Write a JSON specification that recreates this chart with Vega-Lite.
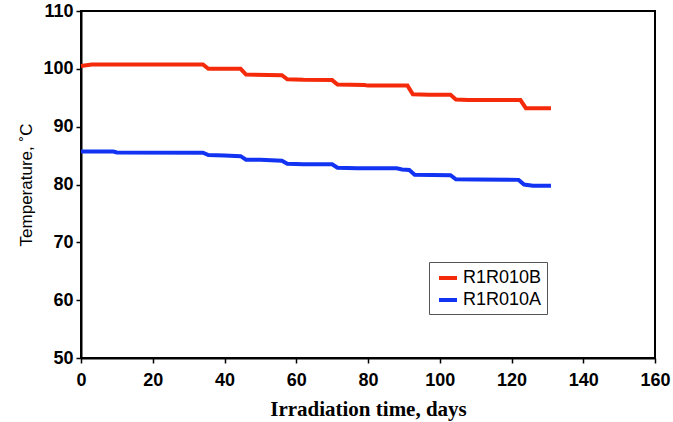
{
  "$schema": "https://vega.github.io/schema/vega-lite/v6.json",
  "width": 574,
  "height": 347,
  "autosize": {"type": "none"},
  "padding": {"left": 81, "top": 11, "right": 18, "bottom": 64},
  "background": "white",
  "data": {
    "values": [
      {"day": 0, "temp": 100.5, "series": "R1R010B"},
      {"day": 3, "temp": 100.75, "series": "R1R010B"},
      {"day": 34, "temp": 100.75, "series": "R1R010B"},
      {"day": 35.5, "temp": 100.0, "series": "R1R010B"},
      {"day": 44.5, "temp": 100.0, "series": "R1R010B"},
      {"day": 46, "temp": 99.0, "series": "R1R010B"},
      {"day": 56, "temp": 98.9, "series": "R1R010B"},
      {"day": 57.5, "temp": 98.2, "series": "R1R010B"},
      {"day": 62, "temp": 98.1, "series": "R1R010B"},
      {"day": 70, "temp": 98.05, "series": "R1R010B"},
      {"day": 71.5, "temp": 97.3, "series": "R1R010B"},
      {"day": 79, "temp": 97.2, "series": "R1R010B"},
      {"day": 80, "temp": 97.1, "series": "R1R010B"},
      {"day": 91, "temp": 97.1, "series": "R1R010B"},
      {"day": 92.5, "temp": 95.6, "series": "R1R010B"},
      {"day": 97, "temp": 95.5, "series": "R1R010B"},
      {"day": 103, "temp": 95.5, "series": "R1R010B"},
      {"day": 104.5, "temp": 94.7, "series": "R1R010B"},
      {"day": 108, "temp": 94.6, "series": "R1R010B"},
      {"day": 122.5, "temp": 94.6, "series": "R1R010B"},
      {"day": 124, "temp": 93.2, "series": "R1R010B"},
      {"day": 131, "temp": 93.2, "series": "R1R010B"},
      {"day": 0, "temp": 85.7, "series": "R1R010A"},
      {"day": 9, "temp": 85.7, "series": "R1R010A"},
      {"day": 10, "temp": 85.55, "series": "R1R010A"},
      {"day": 34, "temp": 85.5, "series": "R1R010A"},
      {"day": 35.5, "temp": 85.1, "series": "R1R010A"},
      {"day": 40, "temp": 85.0, "series": "R1R010A"},
      {"day": 44.5, "temp": 84.9, "series": "R1R010A"},
      {"day": 46, "temp": 84.3, "series": "R1R010A"},
      {"day": 50, "temp": 84.3, "series": "R1R010A"},
      {"day": 56, "temp": 84.1, "series": "R1R010A"},
      {"day": 57.5, "temp": 83.6, "series": "R1R010A"},
      {"day": 62, "temp": 83.5, "series": "R1R010A"},
      {"day": 70, "temp": 83.5, "series": "R1R010A"},
      {"day": 71.5, "temp": 82.9, "series": "R1R010A"},
      {"day": 77, "temp": 82.8, "series": "R1R010A"},
      {"day": 88, "temp": 82.8, "series": "R1R010A"},
      {"day": 89.5, "temp": 82.6, "series": "R1R010A"},
      {"day": 91.5, "temp": 82.5, "series": "R1R010A"},
      {"day": 93, "temp": 81.7, "series": "R1R010A"},
      {"day": 103, "temp": 81.6, "series": "R1R010A"},
      {"day": 104.5, "temp": 80.9, "series": "R1R010A"},
      {"day": 110, "temp": 80.85, "series": "R1R010A"},
      {"day": 122, "temp": 80.8, "series": "R1R010A"},
      {"day": 123.5, "temp": 80.0, "series": "R1R010A"},
      {"day": 126, "temp": 79.8, "series": "R1R010A"},
      {"day": 131, "temp": 79.8, "series": "R1R010A"}
    ]
  },
  "mark": {"type": "line", "strokeWidth": 4, "strokeJoin": "miter"},
  "encoding": {
    "x": {
      "field": "day", "type": "quantitative",
      "scale": {"domain": [0, 160], "nice": false},
      "axis": {
        "title": "Irradiation time, days",
        "values": [0, 20, 40, 60, 80, 100, 120, 140, 160],
        "titleFont": "Liberation Serif", "titleFontSize": 21, "titleFontWeight": "bold",
        "titlePadding": 9,
        "labelPadding": 8, "labelFlush": false
      }
    },
    "y": {
      "field": "temp", "type": "quantitative",
      "scale": {"domain": [50, 110], "nice": false, "zero": false},
      "axis": {
        "title": "Temperature, ˚C",
        "values": [50, 60, 70, 80, 90, 100, 110],
        "titleFont": "Liberation Sans", "titleFontSize": 17, "titleFontWeight": "normal",
        "titlePadding": 7,
        "labelPadding": 3, "labelFlush": false
      }
    },
    "color": {
      "field": "series", "type": "nominal",
      "scale": {"domain": ["R1R010B", "R1R010A"], "range": ["#f52a0a", "#1233f2"]},
      "legend": {
        "title": null,
        "orient": "none",
        "legendX": 348,
        "legendY": 251,
        "symbolType": "stroke",
        "symbolSize": 324,
        "symbolStrokeWidth": 4,
        "symbolOffset": 3,
        "labelOffset": 4,
        "labelFont": "Liberation Sans",
        "labelFontSize": 18,
        "labelColor": "black",
        "strokeColor": "#555",
        "fillColor": "white",
        "padding": 5,
        "rowPadding": 2
      }
    }
  },
  "config": {
    "view": {"stroke": "black", "strokeWidth": 2},
    "axis": {
      "grid": false,
      "domainColor": "black",
      "domainWidth": 2,
      "tickColor": "black",
      "tickWidth": 1.5,
      "tickSize": 5,
      "labelFont": "Liberation Sans",
      "labelFontSize": 18,
      "labelFontWeight": "bold",
      "labelColor": "black",
      "titleColor": "black"
    }
  }
}
